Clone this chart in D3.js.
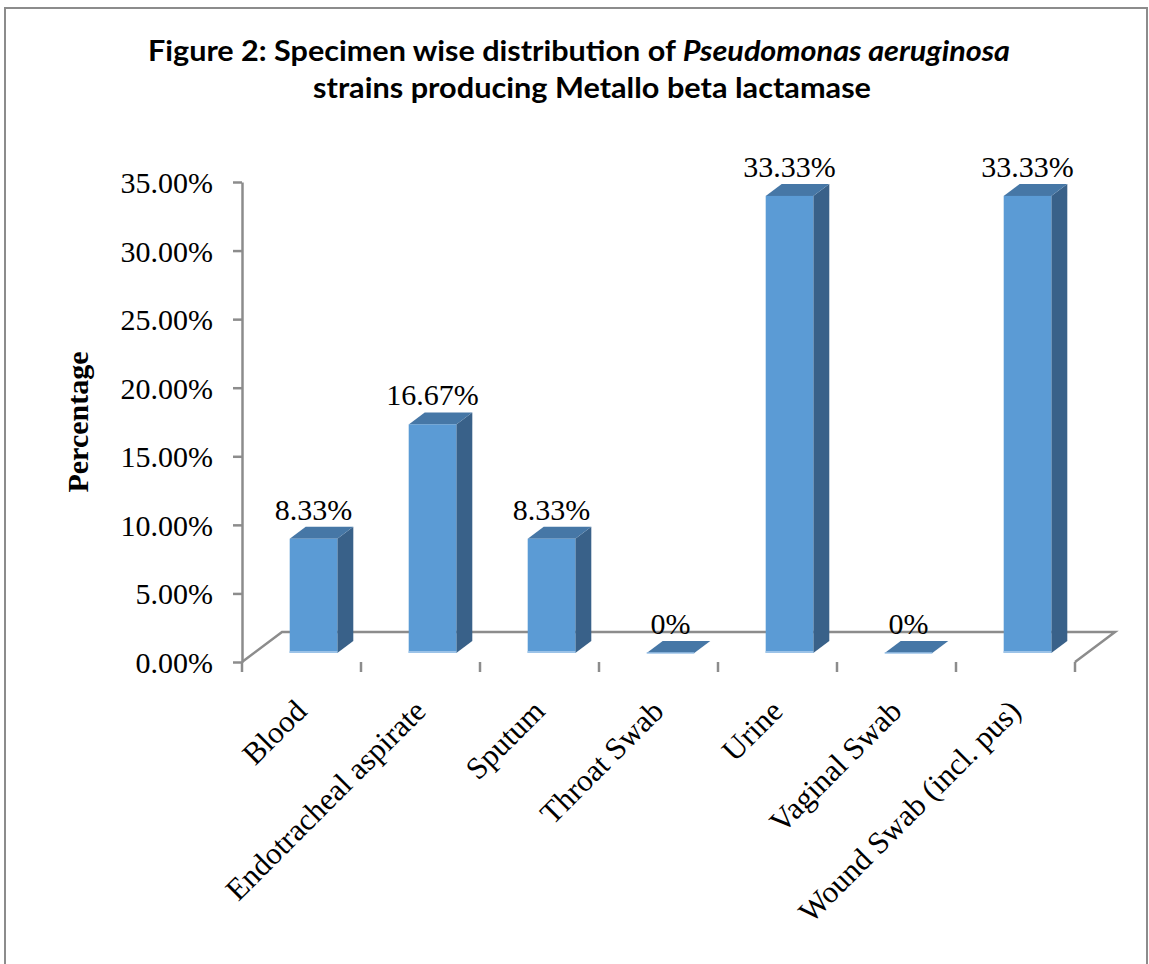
<!DOCTYPE html>
<meta charset="utf-8">
<style>
body { margin: 0; background: #fff; }
.axis text { font: 30px "Liberation Serif", "Times New Roman", serif; fill: #000; }
.axis path, .axis line { stroke: #8c8c8c; stroke-width: 2.5px; }
.floor { fill: none; stroke: #8c8c8c; stroke-width: 2.5px; }
.lbl { font: 30px "Liberation Serif", "Times New Roman", serif; fill: #000; }
.title { font: bold 28px Lato, "Open Sans", sans-serif; fill: #000; }
</style>
<body>
<script src="https://d3js.org/d3.v7.min.js"></script>
<script>

// chart data
var categories = ["Blood", "Endotracheal aspirate", "Sputum", "Throat Swab", "Urine", "Vaginal Swab", "Wound Swab (incl. pus)"];
var values = [0.0833, 0.1667, 0.0833, 0, 0.3333, 0, 0.3333];
var valueLabels = ["8.33%", "16.67%", "8.33%", "0%", "33.33%", "0%", "33.33%"];
var yTicks = [0, 0.05, 0.10, 0.15, 0.20, 0.25, 0.30, 0.35];

var W = 1149, H = 964;

// plot area (front edge of the floor)
var plot = {left: 242, right: 1075, bottom: 662, top: 182};
// 3d depth of the floor, bars sit between fFront and fBack of it
var depthX = 40, depthY = 30;
var fFront = 0.3, fBack = 0.7;

var svg = d3.select("body").append("svg")
    .attr("width", W)
    .attr("height", H);

// outer frame
svg.append("rect")
    .attr("x", 5).attr("y", 8)
    .attr("width", 1142).attr("height", 1000)
    .attr("fill", "none")
    .attr("stroke", "#8c8c8c")
    .attr("stroke-width", 2);

// title
var t1 = svg.append("text").attr("class", "title")
    .attr("x", 148).attr("y", 61)
    .attr("textLength", 862).attr("lengthAdjust", "spacingAndGlyphs");
t1.append("tspan").text("Figure 2: Specimen wise distribution of ");
t1.append("tspan").style("font-style", "italic").text("Pseudomonas aeruginosa");
svg.append("text").attr("class", "title")
    .attr("x", 313).attr("y", 98)
    .attr("textLength", 558).attr("lengthAdjust", "spacingAndGlyphs")
    .text("strains producing Metallo beta lactamase");

// scales
var x = d3.scaleBand().domain(categories).range([plot.left, plot.right]);
var y = d3.scaleLinear().domain([0, 0.35]).range([plot.bottom, plot.top]);

// floor
svg.append("path").attr("class", "floor")
    .attr("d", d3.line()([
        [plot.left, plot.bottom],
        [plot.left + depthX, plot.bottom - depthY],
        [plot.right + depthX, plot.bottom - depthY],
        [plot.right, plot.bottom]]));

// y axis
var yAxis = d3.axisLeft(y)
    .tickValues(yTicks)
    .tickFormat(d3.format(".2%"))
    .tickSize(9)
    .tickSizeOuter(0)
    .tickPadding(20);
svg.append("g")
    .attr("class", "axis")
    .attr("transform", "translate(" + plot.left + ",0)")
    .call(yAxis)
    .selectAll("text").attr("dy", "0.35em");

// bars
var bw = x.bandwidth() * 0.4;
var sx = depthX * (fBack - fFront), sy = depthY * (fBack - fFront);
var bars = svg.append("g")
    .attr("transform", "translate(" + (depthX * fFront) + "," + (-depthY * fFront) + ")")
    .selectAll("g")
    .data(categories)
    .join("g");

bars.each(function(d, i) {
    var g = d3.select(this);
    var x0 = x(d) + (x.bandwidth() - bw) / 2;
    var x1 = x0 + bw;
    var yb = y(0);
    var yt = y(values[i]);
    // side
    g.append("path")
        .attr("d", d3.line()([[x1, yt], [x1 + sx, yt - sy], [x1 + sx, yb - sy], [x1, yb]]) + "Z")
        .attr("fill", "#396189");
    // top
    g.append("path")
        .attr("d", d3.line()([[x0, yt], [x0 + sx, yt - sy], [x1 + sx, yt - sy], [x1, yt]]) + "Z")
        .attr("fill", "#4677a6");
    // front
    if (values[i] > 0) {
        g.append("rect")
            .attr("x", x0).attr("y", yt)
            .attr("width", bw).attr("height", yb - yt)
            .attr("fill", "#5b9bd5");
        g.append("rect")
            .attr("x", x0).attr("y", yb - 2)
            .attr("width", bw).attr("height", 2)
            .attr("fill", "#9cc3e8");
    } else {
        g.append("line")
            .attr("x1", x0).attr("x2", x1)
            .attr("y1", yb).attr("y2", yb)
            .attr("stroke", "#9cc3e8").attr("stroke-width", 1.5);
    }
    // value label
    g.append("text").attr("class", "lbl")
        .attr("x", x0 + bw / 2)
        .attr("y", yt - sy - 7)
        .attr("text-anchor", "middle")
        .text(valueLabels[i]);
});

// x axis ticks at category boundaries
var bounds = categories.map(function(c) { return x(c); }).concat([plot.right]);
svg.append("g").attr("class", "axis")
    .selectAll("line")
    .data(bounds)
    .join("line")
    .attr("x1", function(d) { return d; })
    .attr("x2", function(d) { return d; })
    .attr("y1", plot.bottom)
    .attr("y2", plot.bottom + 10);

// x labels
svg.append("g").attr("class", "axis")
    .selectAll("text")
    .data(categories)
    .join("text")
    .attr("text-anchor", "end")
    .style("font-size", "31px")
    .attr("transform", function(d) {
        return "translate(" + (x(d) + x.bandwidth() / 2 + 7) + "," + 713 + ") rotate(-45)";
    })
    .text(function(d) { return d; });

// y axis title
svg.append("text")
    .attr("transform", "translate(88,422) rotate(-90)")
    .attr("text-anchor", "middle")
    .style("font", "bold 30px 'Liberation Serif', 'Times New Roman', serif")
    .text("Percentage");

</script>
</body>
